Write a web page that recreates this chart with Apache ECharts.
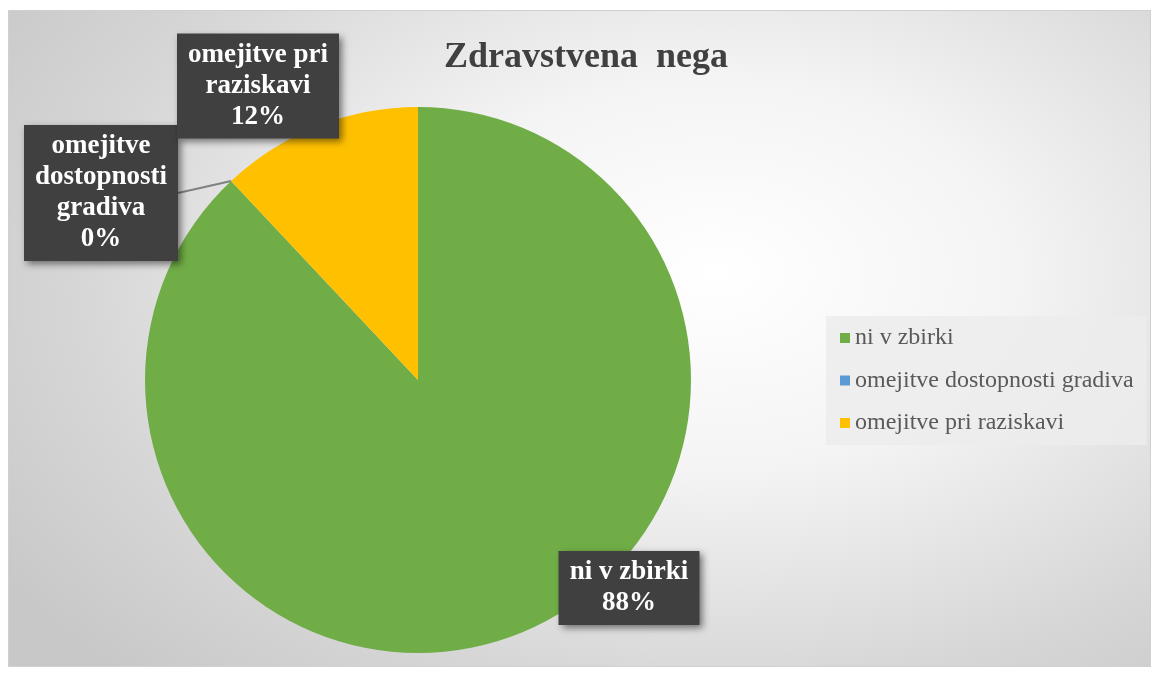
<!DOCTYPE html>
<html>
<head>
<meta charset="utf-8">
<script src="https://cdn.jsdelivr.net/npm/echarts@6/dist/echarts.min.js"></script>
<style>
  html, body { margin: 0; padding: 0; background: #ffffff; }
  #chart {
    position: absolute; left: 8px; top: 10px;
    width: 1141px; height: 655px;
    border: 1px solid #d0d0d0;
    background: radial-gradient(ellipse 75% 85% at 62% 40%, #ffffff 0%, #f4f4f4 35%, #d6d6d6 75%, #c8c8c8 100%);
  }
</style>
</head>
<body>
<div id="chart"></div>
<script>
var categories = ['ni v zbirki', 'omejitve dostopnosti gradiva', 'omejitve pri raziskavi'];
var labelNames = ['ni v zbirki', 'omejitve\ndostopnosti\ngradiva', 'omejitve pri\nraziskavi'];
var values = [88, 0, 12];
var colors = ['#70ad47', '#5b9bd5', '#ffc000'];

// where Excel put the data labels (box centres, chart px) and how wide the boxes are
var labelSpots = [[620, 577], [92, 182], [249, 75]];
var labelWidths = [127, 140, 148];

var chart = echarts.init(document.getElementById('chart'));

var pieData = categories.map(function (name, i) {
  return {
    name: name,
    value: values[i],
    itemStyle: { color: colors[i] },
    label: { width: labelWidths[i] },
    labelLine: { show: i === 1 }
  };
});

var option = {
  backgroundColor: 'transparent',
  animation: false,
  title: {
    text: 'Zdravstvena  nega',
    left: 430,
    top: 24,
    textStyle: {
      fontFamily: 'Liberation Serif',
      fontWeight: 'bold',
      fontSize: 36,
      color: '#404040'
    }
  },
  legend: {
    orient: 'vertical',
    left: 817,
    top: 305,
    padding: [10, 13, 10, 14],
    itemGap: 18.5,
    itemWidth: 10,
    itemHeight: 10,
    icon: 'rect',
    backgroundColor: 'rgba(236,236,236,0.85)',
    data: categories,
    textStyle: {
      fontFamily: 'Liberation Serif',
      fontSize: 24,
      color: '#595959'
    }
  },
  series: [
    {
      type: 'pie',
      center: [409, 369],
      radius: 273,
      startAngle: 90,
      percentPrecision: 0,
      data: pieData,
      label: {
        show: true,
        position: 'outside',
        formatter: function (p) {
          return labelNames[p.dataIndex] + '\n' + p.percent + '%';
        },
        fontFamily: 'Liberation Serif',
        fontWeight: 'bold',
        fontSize: 27,
        lineHeight: 31,
        color: '#ffffff',
        align: 'center',
        overflow: 'none',
        backgroundColor: '#404040',
        padding: [10, 7, 2, 7],
        shadowColor: 'rgba(0,0,0,0.5)',
        shadowBlur: 7,
        shadowOffsetX: 3,
        shadowOffsetY: 3
      },
      labelLine: {
        length: 0,
        length2: 0,
        lineStyle: { color: '#808080', width: 2 }
      },
      labelLayout: function (params) {
        var spot = labelSpots[params.dataIndex];
        return { x: spot[0], y: spot[1], align: 'center', verticalAlign: 'middle' };
      },
      emphasis: { disabled: true }
    }
  ]
};

chart.setOption(option);
</script>
</body>
</html>
